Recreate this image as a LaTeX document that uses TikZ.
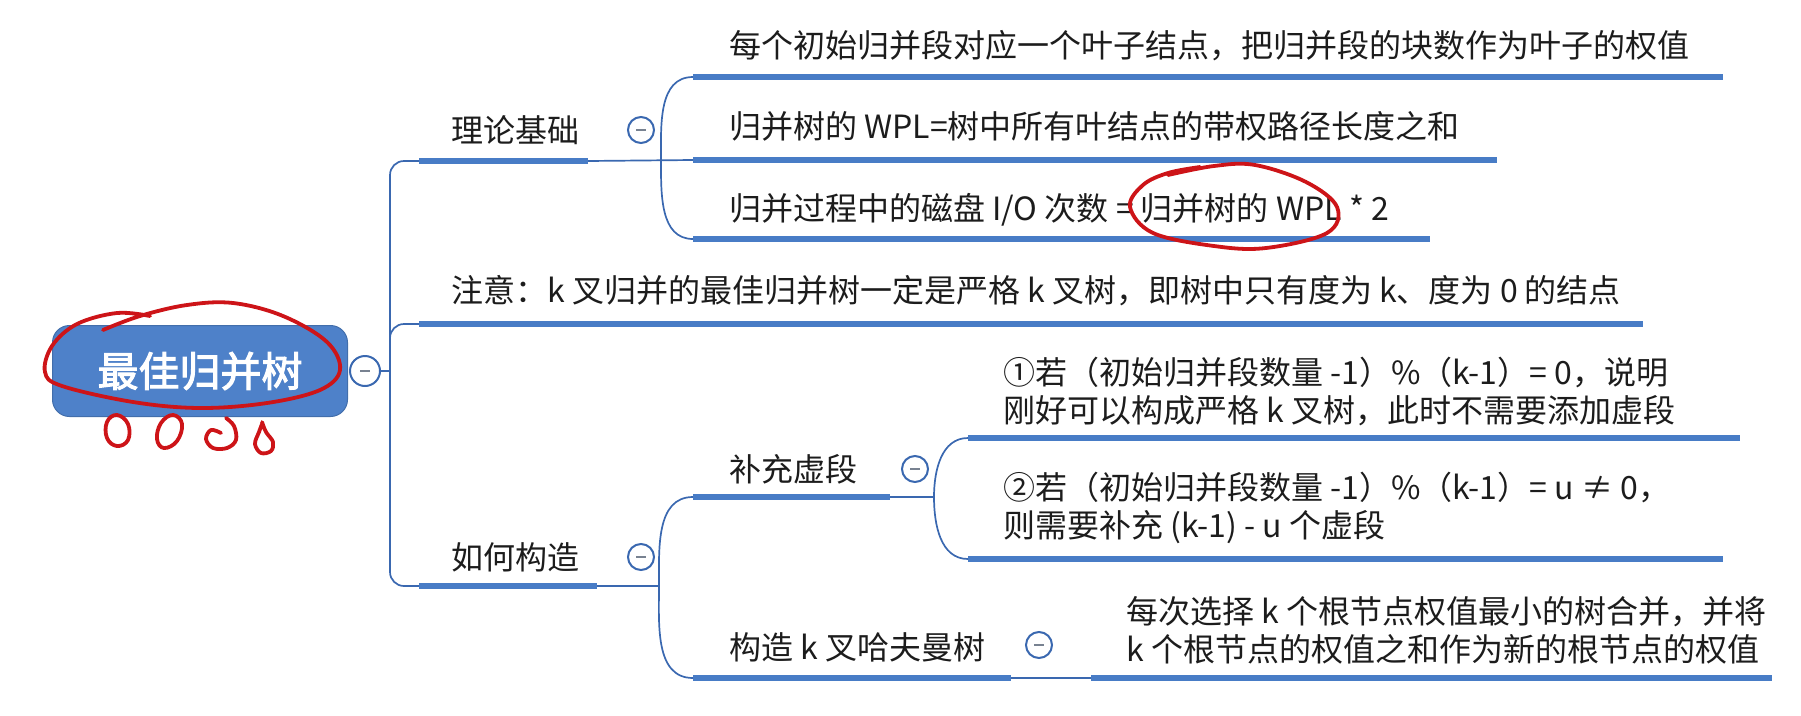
\documentclass[tikz,border=0pt]{standalone}
\usepackage{fontspec}
\setmainfont{Noto Sans CJK SC}[AutoFakeBold=2.5]
\definecolor{barblue}{RGB}{72,124,198}
\definecolor{linkblue}{RGB}{58,104,176}
\definecolor{rootfill}{RGB}{78,129,201}
\definecolor{txtc}{RGB}{28,28,28}
\definecolor{inkred}{RGB}{205,20,24}
\definecolor{minusgray}{RGB}{120,130,145}
\tikzset{
  bar/.style={line width=6.5pt, draw=barblue, line cap=butt},
  link/.style={line width=1.7pt, draw=linkblue},
  txt/.style={anchor=west, inner sep=0pt, align=left, text=txtc, font=\fontsize{32}{38}\selectfont},
  fold/.style={circle, draw=linkblue, line width=2pt, fill=white, minimum size=26pt, inner sep=0pt,
     path picture={\draw[minusgray, line width=1.6pt] ([xshift=-5pt]path picture bounding box.center) -- ([xshift=5pt]path picture bounding box.center);}},
  rootbox/.style={rounded corners=17pt, fill=rootfill, draw=rootfill!85!black, line width=1pt, minimum width=295pt, minimum height=91pt, text=white, font=\fontsize{41}{45}\selectfont\bfseries},
  redink/.style={draw=inkred, line width=3.8pt, line cap=round, line join=round},
}
\begin{document}
\begin{tikzpicture}[x=1pt,y=-1pt]
\useasboundingbox (0,0) rectangle (1801,715);
% ---- root ----
\node[rootbox] (root) at (200,371) {最佳归并树};
\node[fold, minimum size=30pt] (rf) at (365,371) {};
% ---- coordinates ----
\coordinate (trunk) at (390,371);
\coordinate (b1s) at (419,161); \coordinate (b1e) at (588,161);
\coordinate (n1s) at (419,324); \coordinate (n1e) at (1643,324);
\coordinate (b2s) at (419,586); \coordinate (b2e) at (597,586);
\coordinate (c1s) at (693,77);  \coordinate (c1e) at (1723,77);
\coordinate (c2s) at (693,160); \coordinate (c2e) at (1497,160);
\coordinate (c3s) at (693,239); \coordinate (c3e) at (1430,239);
\coordinate (br1) at (661,161);
\coordinate (d1s) at (693,497); \coordinate (d1e) at (890,497);
\coordinate (d2s) at (693,678); \coordinate (d2e) at (1011,678);
\coordinate (br2) at (659,586);
\coordinate (e1s) at (968,438); \coordinate (e1e) at (1740,438);
\coordinate (e2s) at (968,559); \coordinate (e2e) at (1723,559);
\coordinate (br3) at (934,497);
\coordinate (g1s) at (1091,678); \coordinate (g1e) at (1772,678);
% ---- connectors ----
\draw[link] (rf.east) -- (trunk);
\draw[link, rounded corners=14pt] (trunk) |- (b1s);
\draw[link, rounded corners=14pt] (trunk) |- (b2s);
\draw[link, rounded corners=14pt] (trunk) |- (n1s);
\draw[link] (b1e) -- (c2s);
\draw[link] (c1s) to[out=180,in=90] (br1) to[out=-90,in=180] (c3s);
\draw[link] (b2e) -- (br2);
\draw[link] (d1s) to[out=180,in=90] (br2) to[out=-90,in=180] (d2s);
\draw[link] (d1e) -- (br3);
\draw[link] (e1s) to[out=180,in=90] (br3) to[out=-90,in=180] (e2s);
\draw[link] (d2e) -- (g1s);
% ---- bars ----
\draw[bar] (b1s) -- (b1e);
\draw[bar] (n1s) -- (n1e);
\draw[bar] (b2s) -- (b2e);
\draw[bar] (c1s) -- (c1e);
\draw[bar] (c2s) -- (c2e);
\draw[bar] (c3s) -- (c3e);
\draw[bar] (d1s) -- (d1e);
\draw[bar] (d2s) -- (d2e);
\draw[bar] (e1s) -- (e1e);
\draw[bar] (e2s) -- (e2e);
\draw[bar] (g1s) -- (g1e);
% ---- texts ----
\node[txt] (t1) at (451,130) {理论基础};
\node[fold] (f1) at (641,130) {};
\node[txt] (c1) at (729,46) {每个初始归并段对应一个叶子结点，把归并段的块数作为叶子的权值};
\node[txt] (c2) at (729,126) {归并树的 WPL=树中所有叶结点的带权路径长度之和};
\node[txt] (c3) at (729,210) {归并过程中的磁盘 I/O 次数 = 归并树的 WPL * 2};
\node[txt] (n1) at (451,291) {注意：k 叉归并的最佳归并树一定是严格 k 叉树，即树中只有度为 k、度为 0 的结点};
\node[txt] (t2) at (451,557) {如何构造};
\node[fold] (f2) at (641,557) {};
\node[txt] (d1) at (729,469) {补充虚段};
\node[fold] (f3) at (915,469) {};
\node[txt] (d2) at (729,647) {构造 k 叉哈夫曼树};
\node[fold] (f4) at (1039,645) {};
\node[txt] (e1) at (1003,392) {①若（初始归并段数量 -1）\%（k-1）= 0，说明\\刚好可以构成严格 k 叉树，此时不需要添加虚段};
\node[txt] (e2) at (1003,508) {②若（初始归并段数量 -1）\%（k-1）= u ≠ 0，\\则需要补充 (k-1) - u 个虚段};
\node[txt] (g1) at (1126,630) {每次选择 k 个根节点权值最小的树合并，并将\\k 个根节点的权值之和作为新的根节点的权值};
% ---- red hand annotations ----
\draw[redink] plot[smooth, tension=0.6] coordinates {(103,330) (140,316) (187,305) (233,303) (283,316) (327,342) (340,370) (320,390) (267,403) (200,408) (133,402) (62,386) (45,372) (52,346) (77,324) (117,313) (150,316)};
\draw[redink] plot[smooth, tension=0.6] coordinates {(1168,175) (1214,166) (1255,165) (1306,182) (1337,207) (1327,233) (1266,248) (1214,246) (1153,233) (1130,207) (1143,185) (1168,173) (1200,167)};
\draw[redink] plot[smooth cycle, tension=0.7] coordinates {(117,415) (128,424) (128,440) (117,446) (107,438) (107,422)};
\draw[redink] plot[smooth cycle, tension=0.7] coordinates {(173,415) (182,424) (177,441) (164,448) (157,439) (161,423)};
\draw[redink] plot[smooth, tension=0.6] coordinates {(226,418) (234,426) (236,440) (227,448) (213,448) (206,439) (211,430) (221,433)};
\draw[redink] plot[smooth, tension=0.6] coordinates {(262,422) (266,432) (273,442) (271,451) (261,453) (255,444) (259,432) (262,424)};
\end{tikzpicture}
\end{document}
